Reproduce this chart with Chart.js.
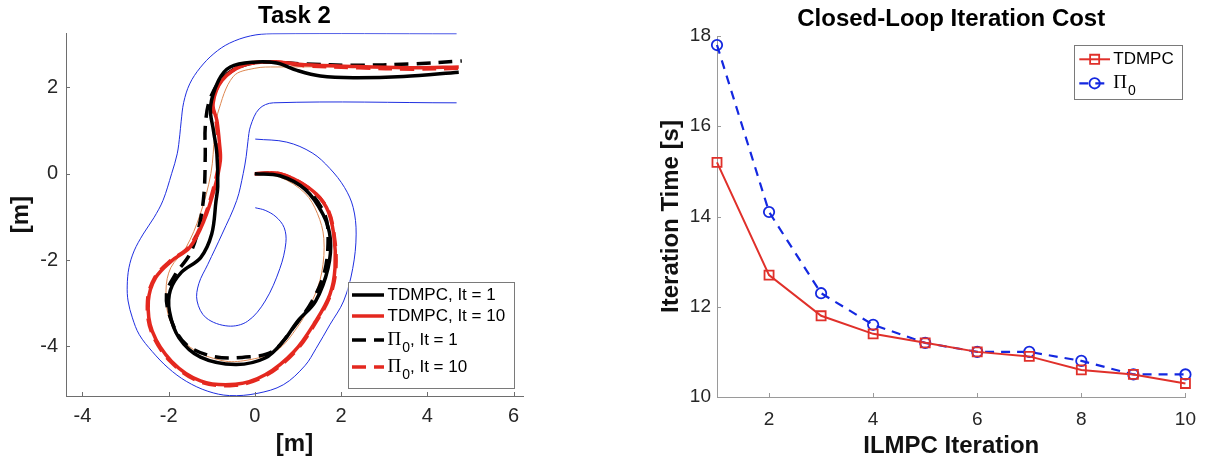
<!DOCTYPE html>
<html>
<head>
<meta charset="utf-8">
<script src="https://cdn.jsdelivr.net/npm/chart.js@4.4.0/dist/chart.umd.min.js"></script>
<style>
  body { margin: 0; background: #fff; }
  #wrap { position: relative; width: 1207px; height: 462px; }
  canvas { position: absolute; top: 0; }
  #trackChart { left: 0; }
  #costChart { left: 600px; }
</style>
</head>
<body>
<div id="wrap">
  <canvas id="trackChart" width="600" height="462"></canvas>
  <canvas id="costChart" width="607" height="462"></canvas>
</div>
<script>
// ---- Task 2: track and trajectories, [x, y] in metres ----
const trackXTicks = [-4, -2, 0, 2, 4, 6];
const trackYTicks = [-4, -2, 0, 2];

const trackOuter = [[4.68,3.24],[0.4,3.24],[-0.1,3.19],[-0.59,3.02],[-0.95,2.78],[-1.27,2.45],[-1.51,2.08],
  [-1.65,1.65],[-1.71,1.2],[-1.74,0.9],[-1.8,0.46],[-1.93,0.0],[-2.13,-0.62],[-2.34,-1.02],[-2.59,-1.4],
  [-2.8,-1.79],[-2.92,-2.18],[-2.96,-2.6],[-2.94,-2.95],[-2.84,-3.34],[-2.68,-3.73],[-2.38,-4.12],[-2.01,-4.5],
  [-1.59,-4.81],[-1.09,-5.04],[-0.59,-5.14],[0.05,-5.09],[0.66,-4.89],[1.16,-4.45],[1.42,-4.05],[1.74,-3.5],
  [2.06,-2.95],[2.27,-2.2],[2.35,-1.4],[2.28,-0.78],[2.08,-0.32],[1.74,0.12],[1.33,0.48],[0.74,0.73],[0.01,0.8]];

const trackInner = [[4.68,1.64],[0.43,1.64],[0.1,1.5],[-0.1,1.1],[-0.16,0.75],[-0.2,0.4],[-0.27,0.0],
  [-0.42,-0.62],[-0.76,-1.4],[-1.09,-2.1],[-1.3,-2.55],[-1.34,-2.95],[-1.13,-3.34],[-0.62,-3.53],[-0.17,-3.42],
  [0.24,-2.95],[0.58,-2.2],[0.72,-1.6],[0.68,-1.25],[0.49,-1.0],[0.24,-0.85],[0.01,-0.79]];

const centerLine = [[0,0],[0.58,-0.08],[1.16,-0.45],[1.45,-0.92],[1.6,-1.5],[1.55,-2.3],[1.33,-2.95],
  [0.99,-3.55],[0.5,-4.1],[-0.18,-4.32],[-0.76,-4.33],[-1.5,-4.02],[-1.96,-3.42],[-2.06,-2.7],[-1.95,-2.18],
  [-1.6,-1.72],[-1.27,-0.95],[-1.02,0.0],[-0.93,0.9],[-0.86,1.4],[-0.5,2.25],[0.0,2.44],[0.49,2.47],[4.7,2.47]];

const tdmpcIt1 = [[0,0],[0.58,-0.05],[1.16,-0.36],[1.58,-0.94],[1.75,-1.5],[1.7,-2.18],[1.41,-2.95],
  [0.99,-3.42],[0.66,-3.88],[0.24,-4.27],[-0.45,-4.42],[-1.26,-4.25],[-1.76,-3.8],[-1.98,-3.19],[-1.96,-2.7],
  [-1.7,-2.28],[-1.26,-1.95],[-1.0,-1.4],[-0.9,-0.63],[-0.86,-0.3],[-0.88,0.46],[-0.96,1.0],[-1.03,1.54],
  [-0.84,2.16],[-0.57,2.47],[-0.03,2.58],[0.51,2.56],[0.98,2.39],[1.52,2.26],[2.29,2.22],[3.45,2.25],[4.73,2.35]];

const tdmpcIt10 = [[0,0],[0.58,0.0],[1.24,-0.32],[1.66,-0.78],[1.83,-1.4],[1.86,-2.18],[1.74,-2.8],
  [1.41,-3.42],[0.91,-4.12],[0.24,-4.66],[-0.45,-4.88],[-1.26,-4.8],[-1.93,-4.35],[-2.38,-3.65],[-2.47,-2.95],
  [-2.3,-2.41],[-1.93,-2.02],[-1.51,-1.71],[-1.18,-1.09],[-0.93,-0.32],[-0.8,0.3],[-0.82,0.7],[-0.88,1.23],
  [-0.97,1.62],[-0.76,2.16],[-0.26,2.51],[0.41,2.59],[1.16,2.52],[2.41,2.48],[3.66,2.45],[4.73,2.47]];

const pi0It1 = [[0,0],[0.58,-0.02],[1.24,-0.4],[1.62,-0.94],[1.7,-1.45],[1.62,-2.26],[1.33,-2.95],
  [0.83,-3.65],[0.41,-4.12],[-0.09,-4.24],[-0.93,-4.24],[-1.59,-3.96],[-1.93,-3.42],[-2.05,-2.8],[-1.84,-2.33],
  [-1.51,-1.87],[-1.3,-1.25],[-1.18,-0.47],[-1.15,0.46],[-1.15,1.08],[-1.05,1.7],[-0.76,2.2],[-0.26,2.51],
  [0.33,2.58],[1.16,2.54],[2.29,2.51],[3.66,2.54],[4.8,2.61]];

const pi0It10 = [[0,0],[0.6,-0.01],[1.26,-0.34],[1.68,-0.8],[1.84,-1.42],[1.88,-2.2],[1.75,-2.82],
  [1.42,-3.44],[0.92,-4.14],[0.25,-4.68],[-0.45,-4.9],[-1.27,-4.82],[-1.95,-4.36],[-2.4,-3.66],[-2.49,-2.95],
  [-2.32,-2.4],[-1.95,-2.01],[-1.53,-1.7],[-1.2,-1.08],[-0.95,-0.3],[-0.83,0.3],[-0.84,0.7],[-0.9,1.23],
  [-0.98,1.62],[-0.77,2.17],[-0.27,2.52],[0.41,2.59],[1.16,2.5],[2.41,2.45],[3.66,2.42],[4.75,2.44]];

// ---- Closed-loop iteration cost ----
const iterations = [1, 2, 3, 4, 5, 6, 7, 8, 9, 10];
const tdmpcCost = [15.2, 12.7, 11.8, 11.4, 11.2, 11.0, 10.9, 10.6, 10.5, 10.3];
const pi0Cost = [17.8, 14.1, 12.3, 11.6, 11.2, 11.0, 11.0, 10.8, 10.5, 10.5];
const costXTicks = [2, 4, 6, 8, 10];
const costYTicks = [10, 12, 14, 16, 18];

const SANS = '"Liberation Sans", Arial, Helvetica, sans-serif';
Chart.defaults.font.family = SANS;

const toPoints = arr => arr.map(p => ({ x: p[0], y: p[1] }));
const fixedTicks = values => scale => { scale.ticks = values.map(v => ({ value: v })); };

// legend text, "Π_0, It = 1" -> Π with subscript 0
function drawLabel(ctx, text, x, y, size) {
    ctx.fillStyle = '#000';
    ctx.textBaseline = 'middle';
    ctx.textAlign = 'left';
    const parts = text.split('_');
    if (parts.length === 1) {
        ctx.font = size + 'px ' + SANS;
        ctx.fillText(text, x, y);
        return;
    }
    ctx.font = (size + 2) + 'px "Liberation Serif", serif';
    ctx.fillText(parts[0], x, y);
    x += ctx.measureText(parts[0]).width + 1;
    const sub = parts[1].charAt(0), rest = parts[1].slice(1);
    ctx.font = Math.round(size * 0.85) + 'px ' + SANS;
    ctx.fillText(sub, x, y + size * 0.45);
    x += ctx.measureText(sub).width;
    ctx.font = size + 'px ' + SANS;
    ctx.fillText(rest, x, y);
}

// MATLAB style legend box inside the axes
const boxLegend = {
    id: 'boxLegend',
    afterDraw(chart, args, o) {
        const ctx = chart.ctx;
        const items = chart.data.datasets.filter(d => d.label);
        ctx.save();
        ctx.fillStyle = '#fff';
        ctx.fillRect(o.x, o.y, o.w, o.h);
        ctx.strokeStyle = '#7a7a7a';
        ctx.lineWidth = 1;
        ctx.strokeRect(Math.round(o.x) + 0.5, Math.round(o.y) + 0.5, Math.round(o.w), Math.round(o.h));
        items.forEach((d, i) => {
            const y = o.rows[i];
            ctx.strokeStyle = d.borderColor;
            ctx.lineWidth = d.borderWidth;
            ctx.setLineDash(d.borderDash || []);
            ctx.beginPath();
            ctx.moveTo(o.lineX0, y);
            ctx.lineTo(o.lineX1, y);
            ctx.stroke();
            ctx.setLineDash([]);
            if (d.pointRadius) {
                const cx = (o.lineX0 + o.lineX1) / 2;
                ctx.lineWidth = d.pointBorderWidth;
                ctx.beginPath();
                if (d.pointStyle === 'rect') {
                    const s = d.pointRadius * Math.SQRT1_2;
                    ctx.rect(cx - s, y - s, 2 * s, 2 * s);
                } else {
                    ctx.arc(cx, y, d.pointRadius, 0, Math.PI * 2);
                }
                ctx.stroke();
            }
            drawLabel(ctx, d.label, o.textX, y, o.size);
        });
        ctx.restore();
    }
};

// short tick marks pointing into the axes
const innerTicks = {
    id: 'innerTicks',
    afterDraw(chart, args, o) {
        const { ctx, chartArea: a, scales } = chart;
        ctx.save();
        ctx.strokeStyle = o.color;
        ctx.lineWidth = 1;
        ctx.beginPath();
        scales.x.ticks.forEach(t => {
            const px = Math.round(scales.x.getPixelForValue(t.value)) + 0.5;
            ctx.moveTo(px, a.bottom);
            ctx.lineTo(px, a.bottom - o.len);
        });
        scales.y.ticks.forEach(t => {
            const py = Math.round(scales.y.getPixelForValue(t.value)) + 0.5;
            ctx.moveTo(a.left, py);
            ctx.lineTo(a.left + o.len, py);
        });
        ctx.stroke();
        ctx.restore();
    }
};

function curve(label, pts, color, width, dash) {
    return {
        label: label,
        data: toPoints(pts),
        showLine: true,
        borderColor: color,
        borderWidth: width,
        borderDash: dash,
        pointRadius: 0,
        tension: 0.35
    };
}

// Track chart
new Chart(document.getElementById('trackChart'), {
    type: 'scatter',
    data: {
        datasets: [
            curve('TDMPC, It = 1', tdmpcIt1, '#000000', 3.5, []),
            curve('TDMPC, It = 10', tdmpcIt10, '#e4281f', 3.5, []),
            curve('Π_0, It = 1', pi0It1, '#000000', 3.5, [14, 8]),
            curve('Π_0, It = 10', pi0It10, '#e4281f', 3.5, [14, 8]),
            curve('', centerLine, '#dd8650', 1, []),
            curve('', trackOuter, '#1f2fe0', 1, []),
            curve('', trackInner, '#1f2fe0', 1, [])
        ]
    },
    options: {
        responsive: false,
        animation: false,
        events: [],
        layout: { padding: { left: 0, right: 77, top: 0, bottom: 0 } },
        scales: {
            x: {
                type: 'linear',
                min: -4.38,
                max: 6.22,
                afterBuildTicks: fixedTicks(trackXTicks),
                afterFit: s => { s.height = 66; },
                grid: { display: false, drawTicks: false },
                border: { display: true, color: '#6e6e6e', width: 1 },
                ticks: { padding: 8, color: '#262626', font: { size: 20 } },
                title: { display: true, text: '[m]', color: '#111', font: { size: 24, weight: 'bold' }, padding: { top: 0, bottom: 3 } }
            },
            y: {
                type: 'linear',
                min: -5.15,
                max: 3.25,
                afterBuildTicks: fixedTicks(trackYTicks),
                afterFit: s => { s.width = 66; },
                grid: { display: false, drawTicks: false },
                border: { display: true, color: '#6e6e6e', width: 1 },
                ticks: { padding: 8, color: '#262626', font: { size: 20 } },
                title: { display: true, text: '[m]', color: '#111', font: { size: 24, weight: 'bold' }, padding: { top: 7, bottom: 0 } }
            }
        },
        plugins: {
            legend: { display: false },
            tooltip: { enabled: false },
            title: {
                display: true,
                fullSize: false,
                text: 'Task 2',
                color: '#000',
                font: { size: 24, weight: 'bold' },
                padding: { top: 2, bottom: 2.5 }
            },
            innerTicks: { len: 4, color: '#6e6e6e' },
            boxLegend: { x: 347.5, y: 281.7, w: 165.7, h: 105.6, rows: [295, 316, 340, 367],
                         lineX0: 352, lineX1: 384, textX: 387.5, size: 17 }
        }
    },
    plugins: [innerTicks, boxLegend]
});

// Iteration cost chart
new Chart(document.getElementById('costChart'), {
    type: 'scatter',
    data: {
        datasets: [
            {
                label: 'TDMPC',
                data: iterations.map((x, i) => ({ x: x, y: tdmpcCost[i] })),
                showLine: true,
                borderColor: '#e0302a',
                borderWidth: 2,
                borderDash: [],
                pointStyle: 'rect',
                pointRadius: 6.4,
                pointBorderWidth: 1.8,
                pointBackgroundColor: 'rgba(0,0,0,0)',
                pointBorderColor: '#e0302a',
                clip: false
            },
            {
                label: 'Π_0',
                data: iterations.map((x, i) => ({ x: x, y: pi0Cost[i] })),
                showLine: true,
                borderColor: '#1428e0',
                borderWidth: 2.2,
                borderDash: [9, 7],
                pointStyle: 'circle',
                pointRadius: 5.2,
                pointBorderWidth: 1.8,
                pointBackgroundColor: 'rgba(0,0,0,0)',
                pointBorderColor: '#1428e0',
                clip: false
            }
        ]
    },
    options: {
        responsive: false,
        animation: false,
        events: [],
        layout: { padding: { left: 0, right: 18, top: 0, bottom: 0 } },
        scales: {
            x: {
                type: 'linear',
                min: 1,
                max: 10,
                afterBuildTicks: fixedTicks(costXTicks),
                afterFit: s => { s.height = 65; },
                grid: { display: false, drawTicks: false },
                border: { display: true, color: '#9a9a9a', width: 1 },
                ticks: { padding: 11, color: '#262626', font: { size: 19 } },
                title: { display: true, text: 'ILMPC Iteration', color: '#111', font: { size: 24, weight: 'bold' }, padding: { top: 0, bottom: 1 } }
            },
            y: {
                type: 'linear',
                min: 10,
                max: 18,
                afterBuildTicks: fixedTicks(costYTicks),
                afterFit: s => { s.width = 117; },
                grid: { display: false, drawTicks: false },
                border: { display: true, color: '#9a9a9a', width: 1 },
                ticks: { padding: 6, color: '#262626', font: { size: 19 } },
                title: { display: true, text: 'Iteration Time [s]', color: '#111', font: { size: 24, weight: 'bold' }, padding: { top: 57, bottom: 0 } }
            }
        },
        plugins: {
            legend: { display: false },
            tooltip: { enabled: false },
            title: {
                display: true,
                fullSize: false,
                text: 'Closed-Loop Iteration Cost',
                color: '#000',
                font: { size: 24, weight: 'bold' },
                padding: { top: 4.6, bottom: 2.6 }
            },
            innerTicks: { len: 4, color: '#9a9a9a' },
            boxLegend: { x: 474, y: 45, w: 107.7, h: 54.3, rows: [59.3, 83.3],
                         lineX0: 479.3, lineX1: 510, textX: 513.3, size: 17 }
        }
    },
    plugins: [innerTicks, boxLegend]
});
</script>
</body>
</html>
